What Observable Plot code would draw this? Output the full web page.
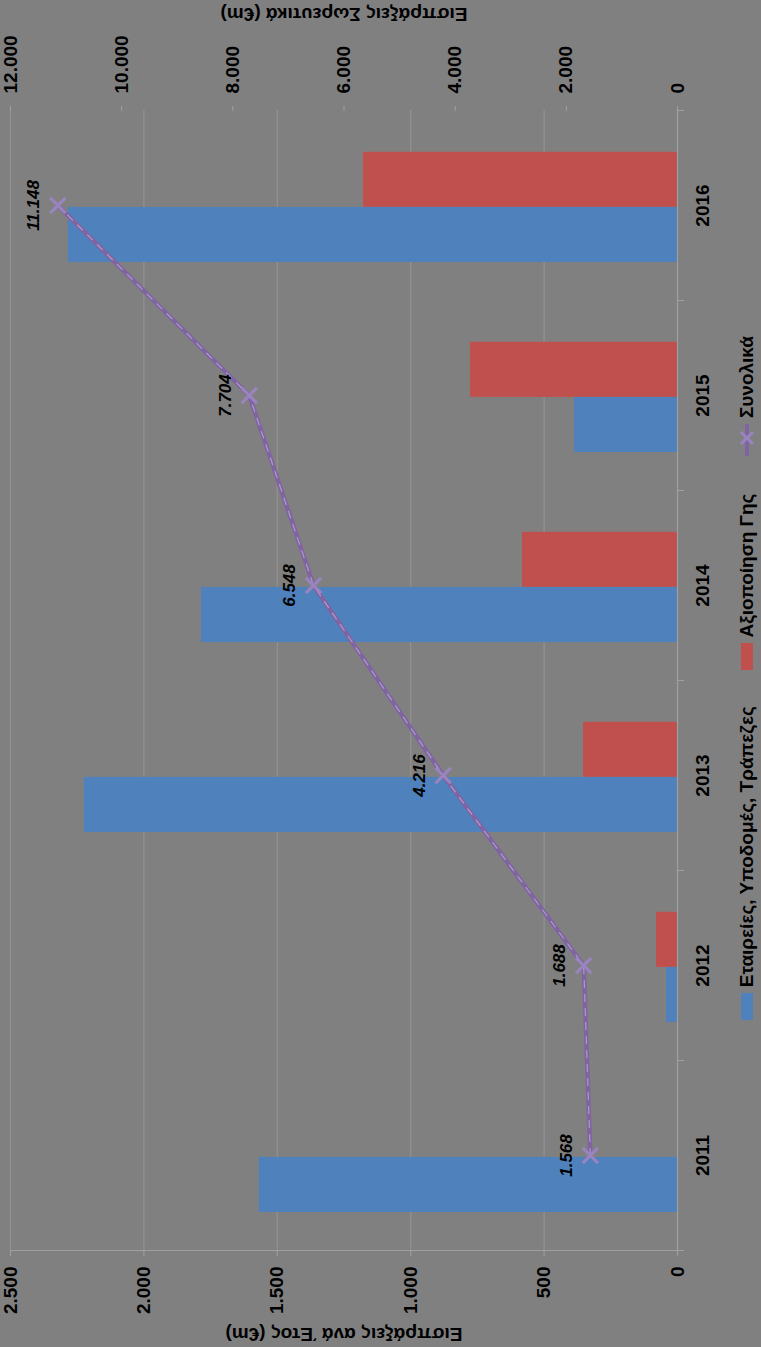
<!DOCTYPE html>
<html>
<head>
<meta charset="utf-8">
<script src="https://cdn.jsdelivr.net/npm/d3@7"></script>
<script src="https://cdn.jsdelivr.net/npm/@observablehq/plot@0.6"></script>
<style>
  html, body { margin: 0; padding: 0; background: #808080; }
  #wrap { position: relative; width: 761px; height: 1347px; overflow: hidden; }
  #legend { position: absolute; left: 737px; top: 1020px; height: 20px; width: 720px;
    transform-origin: 0 0; transform: rotate(-90deg); display: flex; align-items: center;
    font: bold 19px "Liberation Sans", Arial, sans-serif; color: #000; white-space: nowrap; }
  #legend .sw { display: inline-block; width: 32px; height: 12px; margin-right: 6px; }
  #legend .lbl { margin-right: 36px; }
</style>
</head>
<body>
<div id="wrap">
  <div id="chart"></div>
  <div id="legend"></div>
</div>
<script>
// ---- data ----
const years = [2011, 2012, 2013, 2014, 2015, 2016];
const companiesInfra = [1567, 41, 2223, 1784, 386, 2283];   // blue bars (left axis)
const landDev = [0, 79, 352, 581, 776, 1177];                // red bars (left axis)
const cumulative = [1568, 1688, 4216, 6548, 7704, 11148];    // purple line (right axis)
const leftTicks = [0, 500, 1000, 1500, 2000, 2500];
const rightTicks = [0, 2000, 4000, 6000, 8000, 10000, 12000];
const seriesNames = ["Εταιρείες, Υποδομές, Τράπεζες", "Αξιοποίηση Γης", "Συνολικά"];
const bottomTitle = "Εισπράξεις ανά Έτος (€m)";
const topTitle = "Εισπράξεις Σωρευτικά (€m)";
const colors = ["#4F81BD", "#C0504D", "#8064A2"];

// ---- layout ----
const W = 761, H = 1347, mt = 110, mb = 97, ml = 10, mr = 84;
const leftMax = 2500, rightMax = 12000, k = leftMax / rightMax;
const step = (H - mt - mb) / years.length;
const locale = d3.formatLocale({decimal: ",", thousands: ".", grouping: [3], currency: ["", "€"]});
const fmt = locale.format(",");

const blueRows = years.map((y, i) => ({year: y, value: companiesInfra[i]}));
const redRows = years.map((y, i) => ({year: y, value: landDev[i]}));
const lineRows = years.map((y, i) => ({year: y, total: cumulative[i]}));

const axisGray = "#a0a0a0";
const gridGray = "#929292";

const chart = Plot.plot({
  width: W, height: H,
  marginTop: mt, marginBottom: mb, marginLeft: ml, marginRight: mr,
  style: {background: "#808080", fontFamily: "'Liberation Sans', Arial, sans-serif", fontSize: "19px", fontWeight: "bold", color: "#000"},
  x: {domain: [0, leftMax], reverse: true, axis: null, label: null},
  y: {type: "band", domain: years.slice().reverse(), padding: 0, axis: null, label: null},
  marks: [
    Plot.ruleX(leftTicks.slice(1), {stroke: gridGray, strokeWidth: 1.2}),
    Plot.barX(redRows, {x: "value", y: "year", fill: colors[1], insetTop: step * 0.22, insetBottom: step * 0.49}),
    Plot.barX(blueRows, {x: "value", y: "year", fill: colors[0], insetTop: step * 0.51, insetBottom: step * 0.2}),
    Plot.ruleX([0], {stroke: axisGray, strokeWidth: 1.2}),
    Plot.ruleY([years[0]], {x1: 0, x2: leftMax, dy: step / 2, stroke: axisGray, strokeWidth: 1.2}),
    // category boundary ticks
    Plot.axisY(years, {anchor: "right", tickSize: 6, fill: "none", stroke: axisGray, dy: -step / 2, label: null}),
    Plot.axisY([years[0]], {anchor: "right", tickSize: 6, fill: "none", stroke: axisGray, dy: step / 2, label: null}),
    // year labels
    Plot.axisY(years, {anchor: "right", tickSize: 0, tickRotate: -90, textAnchor: "middle", lineAnchor: "top", tickPadding: 18, tickFormat: d => String(d), fill: "#000", label: null}),
    // bottom (left value) axis
    Plot.axisX(leftTicks, {anchor: "bottom", tickSize: 6, stroke: axisGray, tickRotate: -90, textAnchor: "end", lineAnchor: "middle", tickPadding: 10, tickFormat: fmt, fill: "#000", label: null}),
    // top (right value) axis
    Plot.axisX(rightTicks.map(v => v * k), {anchor: "top", tickSize: 5, stroke: axisGray, tickRotate: -90, textAnchor: "start", lineAnchor: "middle", tickPadding: 12, tickFormat: d => fmt(Math.round(d / k)), fill: "#000", label: null}),
    // cumulative line
    Plot.lineX(lineRows, {x: d => d.total * k, y: "year", stroke: colors[2], strokeWidth: 4.5}),
    Plot.lineX(lineRows, {x: d => d.total * k, y: "year", stroke: "#d4c8ea", strokeWidth: 1.2, strokeDasharray: "7,7", strokeOpacity: 0.55}),
    Plot.dot(lineRows, {x: d => d.total * k, y: "year", symbol: "times", r: 7, stroke: "#9a84c0", strokeWidth: 3}),
    Plot.text(lineRows, {x: d => d.total * k, y: "year", text: d => fmt(d.total), rotate: -90, dx: -24, fontStyle: "italic", fontSize: 17, fill: "#000"}),
    // axis titles (upside down)
    Plot.text([bottomTitle], {frameAnchor: "bottom", text: d => d, rotate: 180, lineAnchor: "middle", dy: 84, fill: "#000"}),
    Plot.text([topTitle], {frameAnchor: "top", text: d => d, rotate: 180, lineAnchor: "middle", dy: -96, fill: "#000"})
  ]
});
document.getElementById("chart").appendChild(chart);

// ---- legend ----
const legend = document.getElementById("legend");
seriesNames.forEach((name, i) => {
  let sw;
  if (i < 2) {
    sw = document.createElement("span");
    sw.className = "sw";
    sw.style.background = colors[i];
  } else {
    sw = document.createElementNS("http://www.w3.org/2000/svg", "svg");
    sw.setAttribute("width", 40); sw.setAttribute("height", 20);
    sw.style.marginRight = "6px";
    sw.innerHTML = `<line x1="2" y1="10" x2="38" y2="10" stroke="${colors[2]}" stroke-width="4"/>` +
      `<path d="M14,4L26,16M26,4L14,16" stroke="#9a84c0" stroke-width="3"/>`;
  }
  const lbl = document.createElement("span");
  lbl.className = "lbl";
  lbl.textContent = name;
  legend.appendChild(sw);
  legend.appendChild(lbl);
});
</script>
</body>
</html>
